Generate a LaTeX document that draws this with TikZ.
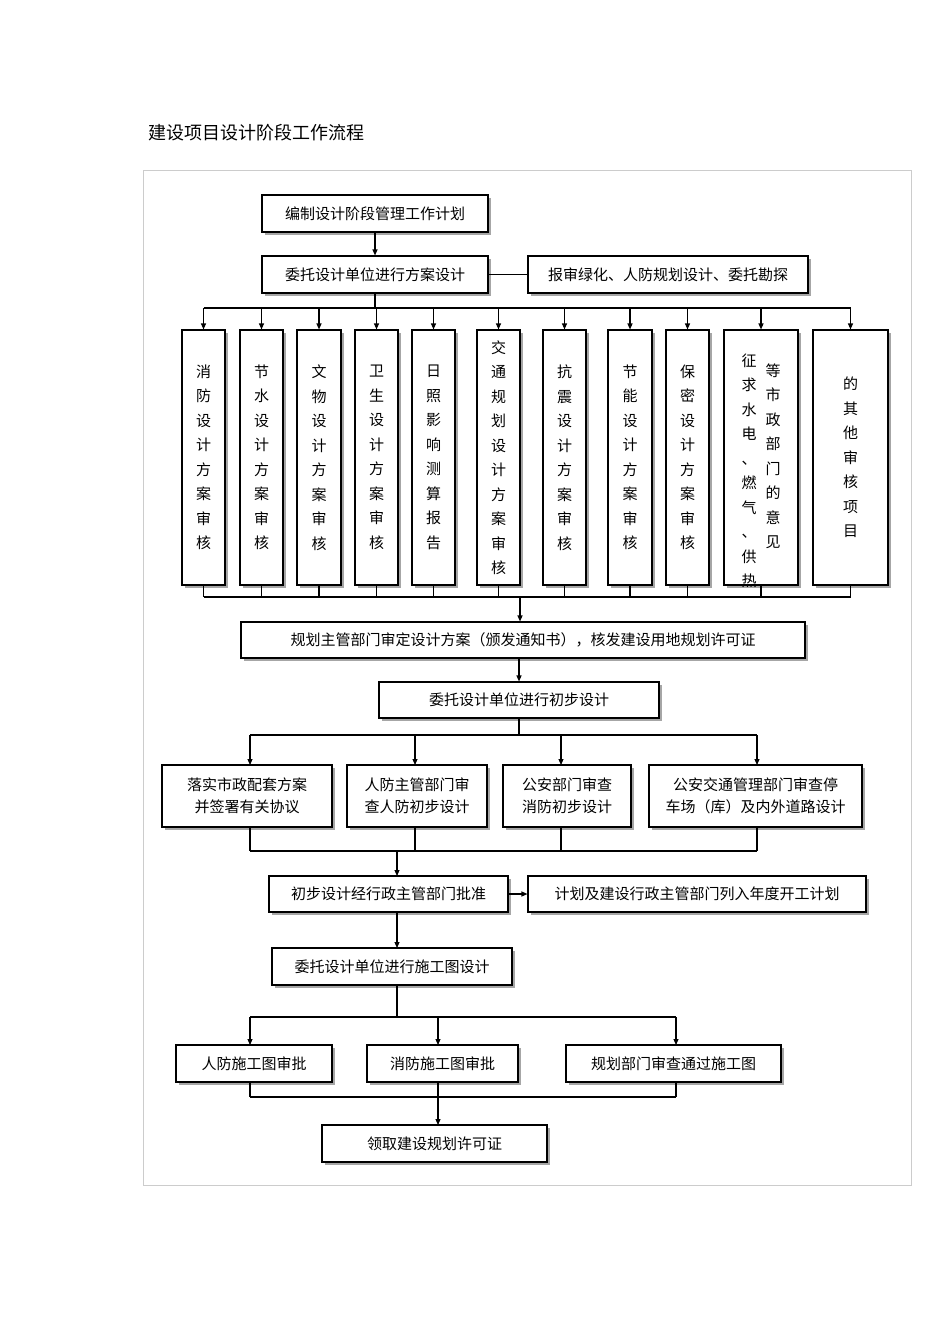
\documentclass[tikz,border=0pt]{standalone}
\usepackage{fontspec}
\setmainfont{Noto Sans CJK SC}
\usetikzlibrary{shadows,arrows.meta}
\begin{document}
\begin{tikzpicture}[x=1pt,y=-1pt,
  bx/.style={draw,line width=1.1pt,fill=white,inner sep=0pt,align=center,font=\fontsize{15}{22}\selectfont,
    drop shadow={shadow xshift=2.5pt,shadow yshift=-2.5pt,fill=gray!70,opacity=1}},
  vt/.style={bx,font=\fontsize{15}{24.5}\selectfont},
  ln/.style={line width=1.1pt},
  arr/.style={ln,-{Triangle[length=6pt,width=5pt]}}]
\useasboundingbox (0,0) rectangle (950,1344);
\node[anchor=west,font=\fontsize{18}{20}\selectfont] (title) at (145,133) {建设项目设计阶段工作流程};
\draw[gray!40,line width=0.8pt] (143,170) rectangle (911,1185);
% top
\node[bx,minimum width=226,minimum height=37] (b1) at (375,213.5) {编制设计阶段管理工作计划};
\node[bx,minimum width=226,minimum height=37] (b2) at (375,274.5) {委托设计单位进行方案设计};
\node[bx,minimum width=280,minimum height=37] (b2s) at (668,274.5) {报审绿化、人防规划设计、委托勘探};
\draw[arr] (b1) -- (b2);
\draw[ln] (b2) -- (b2s);
% vertical boxes
\def\vh{255}
\node[vt,minimum width=43,minimum height=\vh] (v1) at (203.5,457.5) {消\\防\\设\\计\\方\\案\\审\\核};
\node[vt,minimum width=43,minimum height=\vh] (v2) at (261.5,457.5) {节\\水\\设\\计\\方\\案\\审\\核};
\node[vt,minimum width=44,minimum height=\vh] (v3) at (319,457.5) {文\\物\\设\\计\\方\\案\\审\\核};
\node[vt,minimum width=43,minimum height=\vh] (v4) at (376.5,457.5) {卫\\生\\设\\计\\方\\案\\审\\核};
\node[vt,minimum width=43,minimum height=\vh] (v5) at (433.5,457.5) {日\\照\\影\\响\\测\\算\\报\\告};
\node[vt,minimum width=43,minimum height=\vh] (v6) at (498.5,457.5) {交\\通\\规\\划\\设\\计\\方\\案\\审\\核};
\node[vt,minimum width=43,minimum height=\vh] (v7) at (564.5,457.5) {抗\\震\\设\\计\\方\\案\\审\\核};
\node[vt,minimum width=44,minimum height=\vh] (v8) at (630,457.5) {节\\能\\设\\计\\方\\案\\审\\核};
\node[vt,minimum width=43,minimum height=\vh] (v9) at (687.5,457.5) {保\\密\\设\\计\\方\\案\\审\\核};
\node[vt,minimum width=74,minimum height=\vh] (v10) at (761,457.5) {};
\node[font=\fontsize{15}{24.5}\selectfont,align=center,anchor=north] (v10a) at (749,350) {征\\求\\水\\电\\、\\燃\\气\\、\\供\\热};
\node[font=\fontsize{15}{24.5}\selectfont,align=center,anchor=north] (v10b) at (773,360) {等\\市\\政\\部\\门\\的\\意\\见};
\node[vt,minimum width=75,minimum height=\vh] (v11) at (850.5,457.5) {的\\其\\他\\审\\核\\项\\目};
\coordinate (busA) at (0,308);
\coordinate (busB) at (0,597);
\draw[ln] (b2.south) -- (b2.south |- busA);
\draw[ln] (v1.north |- busA) -- (v11.north |- busA);
\draw[ln] (v1.south |- busB) -- (v11.south |- busB);
\foreach \n in {v1,v2,v3,v4,v5,v6,v7,v8,v9,v10,v11}{
  \draw[arr] (\n.north |- busA) -- (\n.north);
  \draw[ln] (\n.south) -- (\n.south |- busB);}
% middle
\node[bx,minimum width=564,minimum height=36] (c1) at (523,640) {规划主管部门审定设计方案（颁发通知书），核发建设用地规划许可证};
\node[bx,minimum width=280,minimum height=36] (c2) at (519,700) {委托设计单位进行初步设计};
\coordinate (j1) at (520,597);
\draw[arr] (j1) -- (j1 |- c1.north);
\draw[arr] (c2.north |- c1.south) -- (c2.north);
\node[bx,minimum width=170,minimum height=62] (d1) at (247,796) {落实市政配套方案\\并签署有关协议};
\node[bx,minimum width=140,minimum height=62] (d2) at (417,796) {人防主管部门审\\查人防初步设计};
\node[bx,minimum width=128,minimum height=62] (d3) at (567,796) {公安部门审查\\消防初步设计};
\node[bx,minimum width=213,minimum height=62] (d4) at (755.5,796) {公安交通管理部门审查停\\车场（库）及内外道路设计};
\coordinate (busC) at (0,735);
\coordinate (busD) at (0,851);
\draw[ln] (c2.south) -- (c2.south |- busC);
\draw[ln] (250,735) -- (757,735);
\draw[ln] (250,851) -- (757,851);
\foreach \n/\x in {d1/250,d2/415,d3/561,d4/757}{
  \draw[arr] (\x,735) -- (\x,765);
  \draw[ln] (\x,827) -- (\x,851);}
\node[bx,minimum width=239,minimum height=36] (e1) at (388.5,894) {初步设计经行政主管部门批准};
\node[bx,minimum width=338,minimum height=36] (e2) at (697,894) {计划及建设行政主管部门列入年度开工计划};
\draw[arr] (397,851) -- (397,876);
\draw[arr] (e1) -- (e2);
\node[bx,minimum width=240,minimum height=37] (f1) at (392,966.5) {委托设计单位进行施工图设计};
\draw[arr] (397,912) -- (397,948);
\coordinate (busE) at (0,1017);
\draw[ln] (397,985) -- (397,1017);
\draw[ln] (250,1017) -- (676,1017);
\node[bx,minimum width=156,minimum height=37] (g1) at (254,1063.5) {人防施工图审批};
\node[bx,minimum width=151,minimum height=37] (g2) at (442.5,1063.5) {消防施工图审批};
\node[bx,minimum width=215,minimum height=37] (g3) at (673.5,1063.5) {规划部门审查通过施工图};
\foreach \x in {250,438,676}{
  \draw[arr] (\x,1017) -- (\x,1045);
  \draw[ln] (\x,1082) -- (\x,1097);}
\draw[ln] (250,1097) -- (676,1097);
\node[bx,minimum width=225,minimum height=37] (h1) at (434.5,1143.5) {领取建设规划许可证};
\draw[arr] (438,1097) -- (438,1125);
\end{tikzpicture}
\end{document}
